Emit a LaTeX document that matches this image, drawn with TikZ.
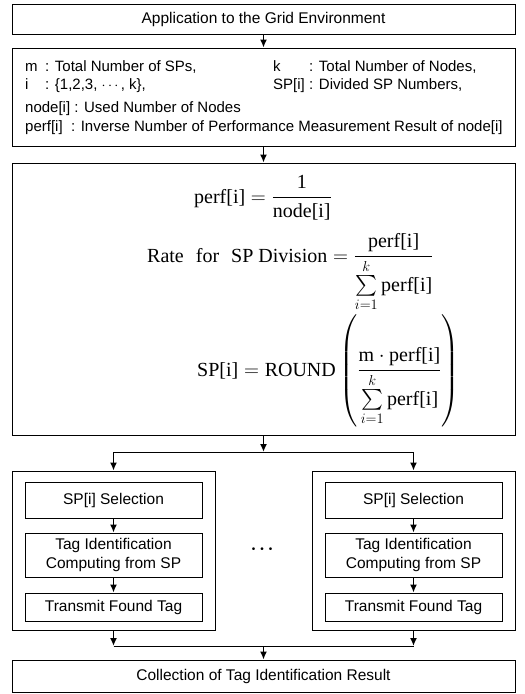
\documentclass[tikz,border=0pt]{standalone}
\usepackage{fontspec}
\usepackage{amsmath}
\setmainfont{Liberation Sans}
\newfontfamily\serf{Liberation Serif}
\usetikzlibrary{arrows.meta}
\newcommand{\tsum}{\textstyle\sum\limits_{i=1}^{k}}
\begin{document}
\begin{tikzpicture}[x=1pt,y=-1pt,
  box/.style={draw, line width=0.8pt, inner sep=0pt, align=center, font=\fontsize{15.5}{19}\selectfont},
  txt/.style={inner sep=0pt, anchor=base west, font=\fontsize{15}{18}\selectfont},
  arr/.style={-{Latex[length=8pt,width=7pt]}, line width=1.6pt},
  ln/.style={line width=0.8pt},
  eq/.style={inner sep=0pt, anchor=base west, font=\serf\fontsize{20}{24}\selectfont},
]
\useasboundingbox (0,0) rectangle (525,694);
\clip (0,0) rectangle (525,694);
% top box
\node[box, minimum width=503pt, minimum height=30pt] (top) at (263.5,19) {Application to the Grid Environment};
% definitions box
\node[box, minimum width=503pt, minimum height=98pt] (defs) at (263.5,97) {};
\node[txt] (m)  at (25,71.5) {m};
\node[txt] (md) at (45,71.5) {: Total Number of SPs,};
\node[txt] (k)  at (273,71.5) {k};
\node[txt] (kd) at (309,71.5) {: Total Number of Nodes,};
\node[txt] (i)  at (25,89.5) {i};
\node[txt] (id) at (45,89.5) {: \{1,2,3, $\cdots$, k\},};
\node[txt] (sp) at (273,89.5) {SP[i]};
\node[txt] (spd) at (309,89.5) {: Divided SP Numbers,};
\node[txt] (nd) at (25,112.5) {node[i] : Used Number of Nodes};
\node[txt] (pf) at (25,131.5) {perf[i]\ \ : Inverse Number of Performance Measurement Result of node[i]};
% main box
\node[box, minimum width=503pt, minimum height=272pt] (main) at (263.5,299) {};
\node[eq, anchor=base] (eqa) at (263,203) {$\text{perf[i]} = \dfrac{\text{1}}{\text{node[i]}}$};
\node[eq] (eqb) at (147,262) {$\text{Rate\hspace{12pt}for\hspace{12pt}SP Division} = \dfrac{\text{perf[i]}}{\tsum\text{perf[i]}}$};
\node[eq] (eqc) at (197,376) {$\text{SP[i]} = \text{ROUND}\left(\dfrac{\text{m}\cdot\text{perf[i]}}{\tsum\text{perf[i]}}\right)$};
% branches
\coordinate (bc) at (263.5,452);
\coordinate (bl) at (113.5,452);
\coordinate (brr) at (413.5,452);
% outer boxes
\node[box, minimum width=203pt, minimum height=159pt] (lo) at (113.5,550.5) {};
\node[box, minimum width=203pt, minimum height=159pt] (ro) at (413.5,550.5) {};
% inner boxes left
\node[box, minimum width=177pt, minimum height=36pt] (lsel) at (113.5,500) {SP[i] Selection};
\node[box, minimum width=177pt, minimum height=44pt] (ltag) at (113.5,555) {Tag Identification\\Computing from SP};
\node[box, minimum width=177pt, minimum height=28pt] (ltx) at (113.5,607) {Transmit Found Tag};
% inner boxes right
\node[box, minimum width=177pt, minimum height=36pt] (rsel) at (413.5,500) {SP[i] Selection};
\node[box, minimum width=177pt, minimum height=44pt] (rtag) at (413.5,555) {Tag Identification\\Computing from SP};
\node[box, minimum width=177pt, minimum height=28pt] (rtx) at (413.5,607) {Transmit Found Tag};
% dots
\node[inner sep=0pt, font=\fontsize{10}{12}\selectfont] (dots) at (262,550) {\textbullet\hspace{5pt}\textbullet\hspace{5pt}\textbullet};
% collection
\coordinate (cl) at (113.5,646);
\coordinate (cr) at (413.5,646);
\coordinate (cc) at (263.5,646);
\node[box, minimum width=503pt, minimum height=32pt] (coll) at (263.5,676) {Collection of Tag Identification Result};
% connectors
\draw[arr] (top) -- (defs);
\draw[arr] (defs) -- (main);
\draw[arr] (main.south) -- (bc);
\draw[ln] (bl) -- (brr);
\draw[arr] (bl) -- (lo);
\draw[arr] (brr) -- (ro);
\draw[arr] (lsel) -- (ltag);
\draw[arr] (ltag) -- (ltx);
\draw[arr] (rsel) -- (rtag);
\draw[arr] (rtag) -- (rtx);
\draw[arr] (lo.south) -- (cl);
\draw[arr] (ro.south) -- (cr);
\draw[ln] (cl) -- (cr);
\draw[arr] (cc) -- (coll);
\end{tikzpicture}
\end{document}
